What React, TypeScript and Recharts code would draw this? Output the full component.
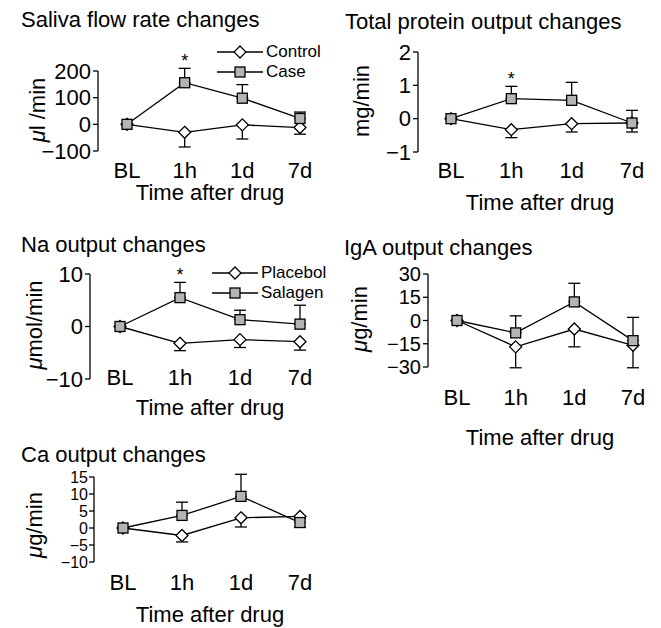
import React from 'react'
import { LineChart, Line, XAxis, YAxis, ErrorBar, Legend, ReferenceDot } from 'recharts'

const times = ['BL', '1h', '1d', '7d']

// saliva flow rate, µl/min
const salivaCase = [0, 156, 98, 22]
const salivaCaseSE = [0, 54, 51, 24]
const salivaControl = [0, -30, -2, -12]
const salivaControlSE = [0, 55, 53, 25]
const salivaTicks = [-100, 0, 100, 200]

// total protein, mg/min
const proteinCase = [0, 0.6, 0.55, -0.13]
const proteinCaseSE = [0, 0.37, 0.54, 0.38]
const proteinControl = [0, -0.33, -0.15, -0.13]
const proteinControlSE = [0, 0.24, 0.25, 0.27]
const proteinTicks = [-1, 0, 1, 2]

// Na, µmol/min
const naCase = [0, 5.5, 1.3, 0.45]
const naCaseSE = [0, 2.9, 1.8, 3.6]
const naControl = [0, -3.2, -2.5, -2.9]
const naControlSE = [0, 1.4, 1.5, 1.6]
const naTicks = [-10, 0, 10]

// IgA, µg/min
const igaCase = [0, -8, 12, -13]
const igaCaseSE = [0, 11, 12, 15]
const igaControl = [0, -17, -5.5, -16]
const igaControlSE = [0, 13.5, 11.5, 14.5]
const igaTicks = [-30, -15, 0, 15, 30]

// Ca, µg/min
const caCase = [0, 3.7, 9.3, 1.6]
const caCaseSE = [0, 3.9, 6.5, 1.2]
const caControl = [0, -2.2, 3.0, 3.4]
const caControlSE = [0, 1.9, 2.7, 3.2]
const caTicks = [-10, -5, 0, 5, 10, 15]

const FONT = '"Liberation Sans", Arial, Helvetica, sans-serif'
const GREY = '#b4b4b4'

function buildRows(c: number[], cse: number[], k: number[], kse: number[]) {
  return times.map((t, i) => ({
    time: t,
    case: c[i],
    caseErr: [0, cse[i]],
    control: k[i],
    controlErr: [kse[i], 0],
  }))
}

const diamondPath = (cx: number, cy: number) =>
  `M${cx},${cy - 6}L${cx + 6},${cy}L${cx},${cy + 6}L${cx - 6},${cy}Z`

const DiamondDot = (props: any) => {
  const { cx, cy, index } = props
  if (cx == null || cy == null) return <g key={`d${index}`} />
  return <path key={`d${index}`} d={diamondPath(cx, cy)} fill="#fff" stroke="#000" strokeWidth={1.3} />
}

const SquareDot = (props: any) => {
  const { cx, cy, index } = props
  if (cx == null || cy == null) return <g key={`s${index}`} />
  return <rect key={`s${index}`} x={cx - 5} y={cy - 5} width={10} height={10} fill={GREY} stroke="#000" strokeWidth={1.3} />
}

const renderLegend = (props: any) => (
  <div style={{ fontFamily: FONT, fontSize: 17, color: '#000' }}>
    {(props.payload || []).map((p: any) => (
      <div key={p.value} style={{ display: 'flex', alignItems: 'center', height: 20 }}>
        <svg width={46} height={16}>
          <line x1={0} x2={46} y1={8} y2={8} stroke="#000" strokeWidth={1.3} />
          {p.dataKey === 'case' ? (
            <rect x={18} y={3} width={10} height={10} fill={GREY} stroke="#000" strokeWidth={1.3} />
          ) : (
            <path d={diamondPath(23, 8)} fill="#fff" stroke="#000" strokeWidth={1.3} />
          )}
        </svg>
        <span style={{ marginLeft: 3, lineHeight: '20px' }}>{p.value}</span>
      </div>
    ))}
  </div>
)

const minus = (v: number) => String(v).replace('-', '\u2212')

type Box = { left: number; top: number; width: number; height: number }

interface PanelProps {
  rows: any[]
  ticks: number[]
  tickFont: number
  box: Box
  axisX: number
  plotTop: number
  plotBottom: number
  firstX: number
  lastX: number
  xTickY: number
  names: [string, string]
  legendAt?: { x: number; y: number }
  star?: boolean
}

function Panel({ rows, ticks, tickFont, box, axisX, plotTop, plotBottom, firstX, lastX, xTickY, names, legendAt, star }: PanelProps) {
  const xAxisH = 40
  const margin = {
    top: plotTop - box.top,
    right: box.left + box.width - lastX,
    bottom: box.top + box.height - plotBottom - xAxisH,
    left: 0,
  }
  const tickMargin = xTickY - 0.355 * 22 - plotBottom
  return (
    <div style={{ position: 'absolute', left: box.left, top: box.top }}>
      <LineChart width={box.width} height={box.height} data={rows} margin={margin}>
        <XAxis
          dataKey="time"
          axisLine={false}
          tickLine={false}
          tickSize={0}
          tickMargin={tickMargin}
          height={xAxisH}
          padding={{ left: firstX - axisX, right: 0 }}
          tick={{ fill: '#000', fontSize: 22, fontFamily: FONT }}
          interval={0}
        />
        <YAxis
          width={axisX - box.left}
          type="number"
          domain={[ticks[0], ticks[ticks.length - 1]]}
          ticks={ticks}
          interval={0}
          allowDataOverflow
          axisLine={{ stroke: '#000', strokeWidth: 1.3 }}
          tickLine={{ stroke: '#000', strokeWidth: 1.3 }}
          tickSize={5}
          tickMargin={tickFont < 18 ? 1 : 2}
          tickFormatter={minus}
          tick={{ fill: '#000', fontSize: tickFont, fontFamily: FONT }}
        />
        {legendAt && (
          <Legend
            layout="vertical"
            align="center"
            verticalAlign="middle"
            content={renderLegend}
            itemSorter={(item: any) => (item.dataKey === 'case' ? 1 : 0)}
            wrapperStyle={{ left: legendAt.x - box.left, top: legendAt.y - 10 - box.top, width: 160, height: 40 }}
          />
        )}
        <Line
          dataKey="control"
          name={names[0]}
          stroke="#000"
          strokeWidth={1.3}
          dot={DiamondDot}
          activeDot={false}
          isAnimationActive={false}
        >
          <ErrorBar dataKey="controlErr" width={6} stroke="#000" strokeWidth={1.3} direction="y" />
        </Line>
        <Line
          dataKey="case"
          name={names[1]}
          stroke="#000"
          strokeWidth={1.3}
          dot={SquareDot}
          activeDot={false}
          isAnimationActive={false}
        >
          <ErrorBar dataKey="caseErr" width={6} stroke="#000" strokeWidth={1.3} direction="y" />
        </Line>
        {star && (
          <ReferenceDot
            x="1h"
            y={rows[1].case + rows[1].caseErr[1]}
            r={0}
            ifOverflow="visible"
            label={{ value: '*', position: 'top', offset: 1, fontSize: 18, fill: '#000', fontFamily: FONT }}
          />
        )}
      </LineChart>
    </div>
  )
}

const Txt = ({ x, y, children, center }: { x: number; y: number; children: React.ReactNode; center?: boolean }) => (
  <div
    style={{
      position: 'absolute',
      left: x,
      top: y - 11,
      lineHeight: '22px',
      fontSize: 22,
      whiteSpace: 'nowrap',
      transform: center ? 'translateX(-50%)' : undefined,
    }}
  >
    {children}
  </div>
)

const YLab = ({ x, y, children }: { x: number; y: number; children: React.ReactNode }) => (
  <div
    style={{
      position: 'absolute',
      left: x,
      top: y,
      lineHeight: '22px',
      fontSize: 22,
      whiteSpace: 'nowrap',
      transform: 'translate(-50%, -50%) rotate(-90deg)',
    }}
  >
    {children}
  </div>
)

const mu = <span style={{ fontStyle: 'italic' }}>μ</span>

export default function App() {
  return (
    <div
      style={{
        position: 'absolute',
        left: 0,
        top: 0,
        width: 661,
        height: 628,
        background: '#fff',
        fontFamily: FONT,
        color: '#000',
        overflow: 'hidden',
      }}
    >
      <Panel
        rows={buildRows(salivaCase, salivaCaseSE, salivaControl, salivaControlSE)}
        ticks={salivaTicks}
        tickFont={22}
        box={{ left: 0, top: 0, width: 330, height: 215 }}
        axisX={98}
        plotTop={71}
        plotBottom={151}
        firstX={127}
        lastX={300}
        xTickY={170}
        names={['Control', 'Case']}
        legendAt={{ x: 217, y: 52 }}
        star
      />
      <Panel
        rows={buildRows(proteinCase, proteinCaseSE, proteinControl, proteinControlSE)}
        ticks={proteinTicks}
        tickFont={22}
        box={{ left: 330, top: 0, width: 331, height: 215 }}
        axisX={418}
        plotTop={52}
        plotBottom={152}
        firstX={451}
        lastX={632}
        xTickY={170}
        names={['Control', 'Case']}
        star
      />
      <Panel
        rows={buildRows(naCase, naCaseSE, naControl, naControlSE)}
        ticks={naTicks}
        tickFont={22}
        box={{ left: 0, top: 225, width: 330, height: 195 }}
        axisX={90}
        plotTop={274}
        plotBottom={379}
        firstX={120}
        lastX={300}
        xTickY={377}
        names={['Placebol', 'Salagen']}
        legendAt={{ x: 212, y: 273 }}
        star
      />
      <Panel
        rows={buildRows(igaCase, igaCaseSE, igaControl, igaControlSE)}
        ticks={igaTicks}
        tickFont={20}
        box={{ left: 330, top: 225, width: 331, height: 200 }}
        axisX={428}
        plotTop={274}
        plotBottom={367}
        firstX={457}
        lastX={633}
        xTickY={397}
        names={['Placebol', 'Salagen']}
      />
      <Panel
        rows={buildRows(caCase, caCaseSE, caControl, caControlSE)}
        ticks={caTicks}
        tickFont={16}
        box={{ left: 0, top: 430, width: 330, height: 198 }}
        axisX={94}
        plotTop={477}
        plotBottom={562}
        firstX={123}
        lastX={300}
        xTickY={582}
        names={['Placebol', 'Salagen']}
      />

      <Txt x={21} y={20}>Saliva flow rate changes</Txt>
      <Txt x={345} y={22}>Total protein output changes</Txt>
      <Txt x={21} y={245}>Na output changes</Txt>
      <Txt x={344} y={248}>IgA output changes</Txt>
      <Txt x={21} y={455}>Ca output changes</Txt>

      <Txt x={210} y={193} center>Time after drug</Txt>
      <Txt x={540} y={203} center>Time after drug</Txt>
      <Txt x={210} y={408} center>Time after drug</Txt>
      <Txt x={540} y={438} center>Time after drug</Txt>
      <Txt x={210} y={615} center>Time after drug</Txt>

      <YLab x={38} y={110}>{mu}l /min</YLab>
      <YLab x={362} y={101}>mg/min</YLab>
      <YLab x={35} y={325}>{mu}mol/min</YLab>
      <YLab x={360} y={319}>{mu}g/min</YLab>
      <YLab x={35} y={525}>{mu}g/min</YLab>
    </div>
  )
}
